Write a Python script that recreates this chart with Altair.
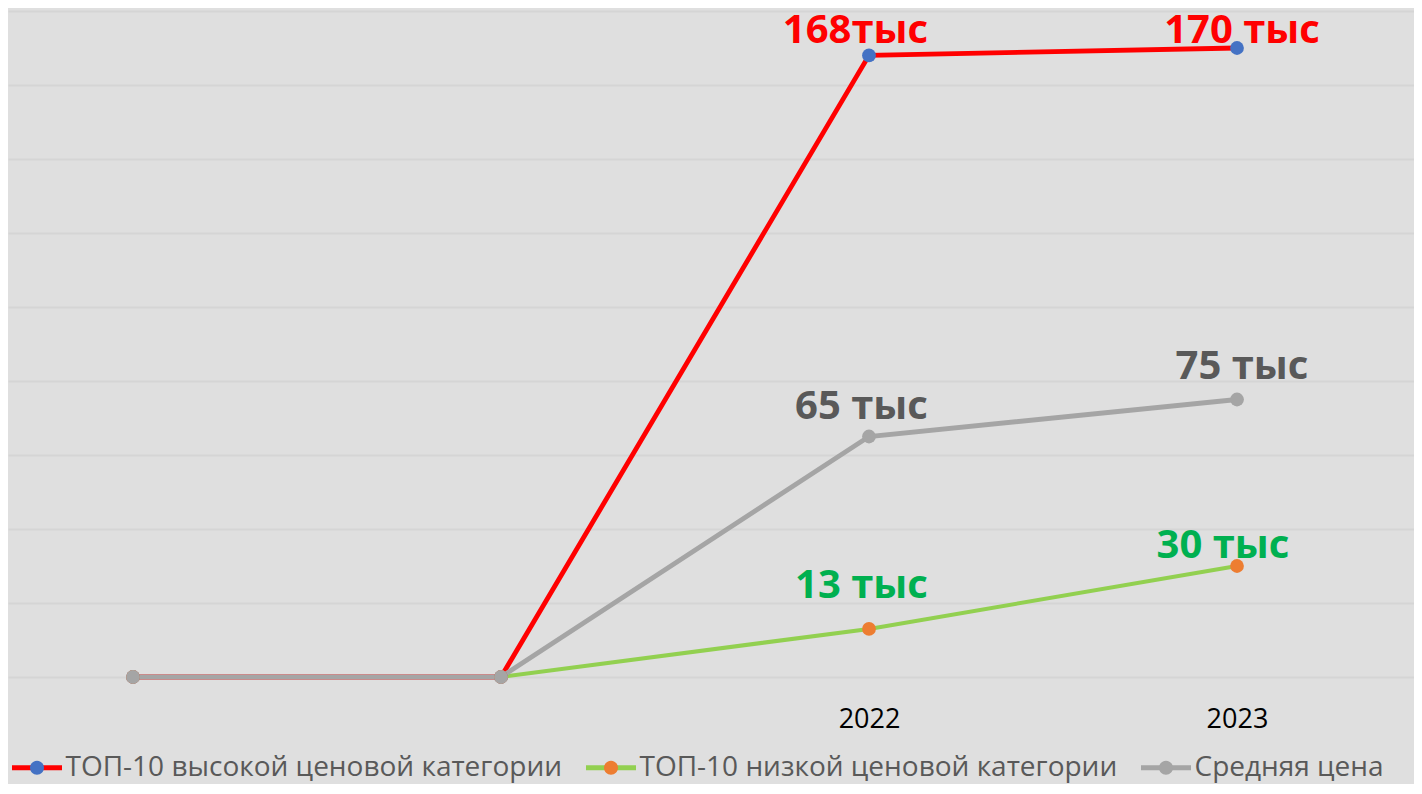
import altair as alt
import pandas as pd

# ---- data ----
categories = ["", " ", "2022", "2023"]
series_names = [
    "ТОП-10 высокой ценовой категории",
    "ТОП-10 низкой ценовой категории",
    "Средняя цена",
]
high_values = [0, 0, 168, 170]
low_values = [0, 0, 13, 30]
avg_values = [0, 0, 65, 75]
high_labels = ["", "", "168тыс", "170 тыс"]
low_labels = ["", "", "13 тыс", "30 тыс"]
avg_labels = ["", "", "65 тыс", "75 тыс"]
y_ticks = [0, 20, 40, 60, 80, 100, 120, 140, 160, 180]

# ---- styles ----
line_colors = ["#ff0000", "#92d050", "#a5a5a5"]
marker_colors = ["#4472c4", "#ed7d31", "#a5a5a5"]
label_colors = ["#ff0000", "#00b050", "#595959"]
line_widths = [4.8, 4, 4.8]

rows = []
for s, vals, labs in zip(series_names,
                         [high_values, low_values, avg_values],
                         [high_labels, low_labels, avg_labels]):
    for c, v, l in zip(categories, vals, labs):
        rows.append({"cat": c, "series": s, "marker": s, "value": v, "label": l})
df = pd.DataFrame(rows)

LINE_PATH = "M-1,0L1,0"
r, k = 0.28, 0.1546
DOT_PATH = (f"M{r},0C{r},{k} {k},{r} 0,{r}C{-k},{r} {-r},{k} {-r},0"
            f"C{-r},{-k} {-k},{-r} 0,{-r}C{k},{-r} {r},{-k} {r},0Z"
            "M-1,0L-1,0M1,0L1,0")

legend_common = dict(
    title=None, orient="none", legendX=1.5, legendY=729,
    direction="horizontal", symbolSize=2500, symbolStrokeWidth=5,
    labelFont="Open Sans", labelFontSize=28, labelLimit=2000,
    columnPadding=13, padding=0, labelOffset=1,
)

x_enc = alt.X(
    "cat:O", sort=categories,
    scale=alt.Scale(domain=categories, padding=0.41033, align=0.41391),
    axis=alt.Axis(title=None, ticks=False, tickSize=0, domain=False, grid=False,
                  labelAngle=0, labelFont="Open Sans", labelFontSize=27,
                  labelColor="#000000", labelBaseline="alphabetic",
                  labelPadding=50),
)
y_enc = alt.Y(
    "value:Q",
    scale=alt.Scale(domain=[0, 180], nice=False, zero=True),
    axis=alt.Axis(values=y_ticks, labels=False, ticks=False, domain=False,
                  title=None, grid=True, gridColor="#d5d5d5", gridWidth=2),
)

base = alt.Chart(df)

stroke_enc = alt.Stroke(
    "series:N",
    scale=alt.Scale(domain=series_names, range=line_colors),
    legend=alt.Legend(symbolType=LINE_PATH, labelColor="#595959", **legend_common),
)

lines = [
    base.transform_filter(alt.datum.series == s)
    .mark_line(strokeWidth=w)
    .encode(x=x_enc, y=y_enc, stroke=stroke_enc)
    for s, w in zip(series_names, line_widths)
]

points = base.mark_circle(size=190, opacity=1).encode(
    x=x_enc, y=y_enc,
    fill=alt.Fill("marker:N", sort=series_names,
                  scale=alt.Scale(range=marker_colors),
                  legend=alt.Legend(symbolType=DOT_PATH, symbolStrokeColor="transparent",
                                    symbolOpacity=1, labelColor="transparent",
                                    **legend_common)),
)

label_offsets = {
    (0, "2022"): (-13.5, -12), (0, "2023"): (5, -5),
    (1, "2022"): (-7.5, -31), (1, "2023"): (-14, -8),
    (2, "2022"): (-7.5, -18), (2, "2023"): (5, -21),
}
texts = []
for (si, cat), (dx, dy) in label_offsets.items():
    s = series_names[si]
    texts.append(
        base.transform_filter((alt.datum.series == s) & (alt.datum.cat == cat))
        .mark_text(font="Open Sans", fontWeight="bold", fontSize=40,
                   color=label_colors[si], dx=dx, dy=dy,
                   baseline="alphabetic", align="center")
        .encode(x=x_enc, y=y_enc, text="label:N")
    )

chart = alt.layer(*lines, points, *texts).properties(
    width=1406, height=666,
    background="#dfdfdf",
    padding={"left": 0, "top": 3, "right": 0, "bottom": 107},
    autosize=alt.AutoSizeParams(type="none"),
).configure_view(stroke=None)

chart.save("out.html", embed_options={"renderer": "svg", "actions": False})
